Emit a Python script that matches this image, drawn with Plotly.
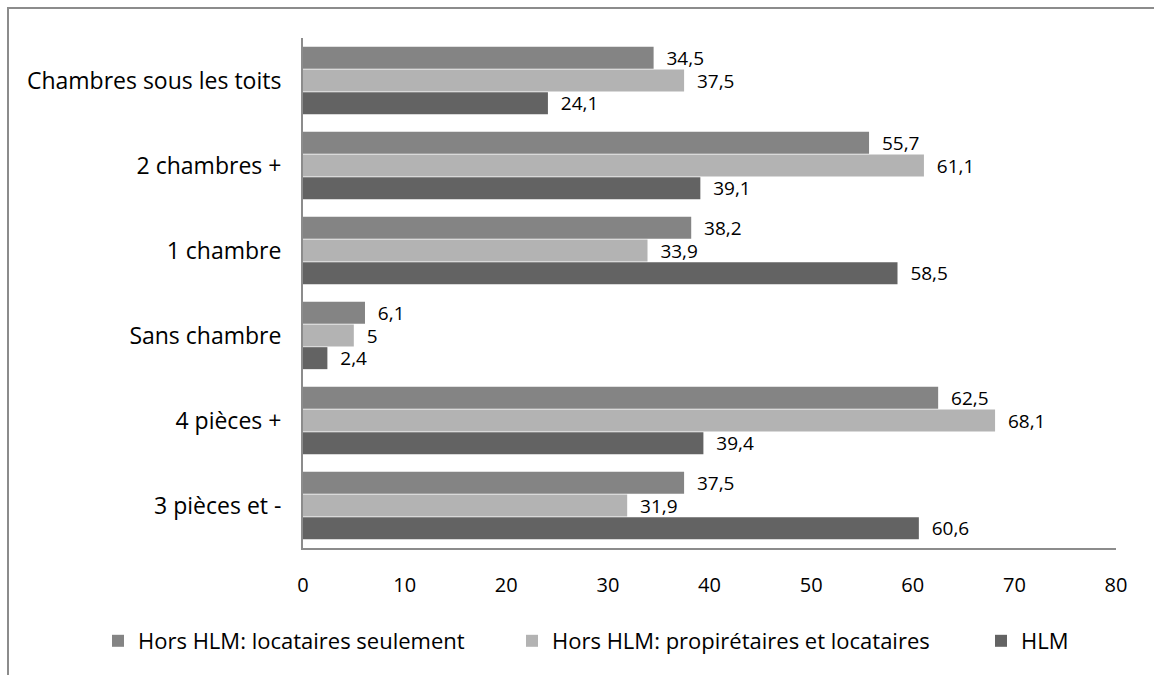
import plotly.graph_objects as go

categories = ["3 pièces et -", "4 pièces +", "Sans chambre", "1 chambre",
              "2 chambres +", "Chambres sous les toits"]
locataires = [37.5, 62.5, 6.1, 38.2, 55.7, 34.5]
proprietaires = [31.9, 68.1, 5, 33.9, 61.1, 37.5]
hlm = [60.6, 39.4, 2.4, 58.5, 39.1, 24.1]
x_ticks = [0, 10, 20, 30, 40, 50, 60, 70, 80]

FONT = "Open Sans, Liberation Sans, sans-serif"

# plot area in pixels
L, R, T, B = 303, 38, 38, 127
PW, PH = 1154 - L - R, 675 - T - B


def px_x(px):
    return (px - L) / PW


def px_y(py):
    return (675 - B - py) / PH


# traces drawn bottom-to-top within a group; each gets its own legend box
series = [
    ("HLM", hlm, "#636363", "legend3", 981),
    ("Hors HLM: propirétaires et locataires", proprietaires, "#b3b3b3", "legend2", 512),
    ("Hors HLM: locataires seulement", locataires, "#848484", "legend", 98),
]

fig = go.Figure()
legend_layout = {}
for name, vals, color, leg, lx in series:
    fig.add_trace(go.Bar(
        y=categories, x=vals, name=name, orientation="h",
        marker=dict(color=color, line=dict(width=0)),
        text=vals, texttemplate="\u00a0\u00a0%{x}", textposition="outside",
        constraintext="none",
        textfont=dict(size=19, color="#000000", family=FONT),
        cliponaxis=False, legend=leg,
    ))
    legend_layout[leg] = dict(
        x=px_x(lx), xanchor="left", y=px_y(641), yanchor="middle",
        orientation="h", font=dict(size=22, family=FONT, color="#000000"),
        bgcolor="rgba(0,0,0,0)", itemwidth=30,
    )

fig.update_layout(
    width=1154, height=675,
    paper_bgcolor="white", plot_bgcolor="white",
    barmode="group", bargap=0.2, bargroupgap=0.03,
    separators=", ",
    margin=dict(l=L, r=R, t=T, b=B),
    font=dict(family=FONT, color="#000000"),
    showlegend=True,
    xaxis=dict(range=[0, 80], tickvals=x_ticks, showgrid=False,
               zeroline=False, showline=True, linecolor="#8c8c8c", linewidth=2,
               ticks="", tickfont=dict(size=20, family=FONT), ticklabelstandoff=18),
    yaxis=dict(showgrid=False, zeroline=False, showline=True,
               linecolor="#8c8c8c", linewidth=2, ticks="",
               tickfont=dict(size=23, family=FONT), ticklabelstandoff=15),
    shapes=[dict(type="rect", xref="paper", yref="paper",
                 x0=px_x(8), x1=px_x(1200), y0=px_y(700), y1=px_y(8),
                 line=dict(color="#8c8c8c", width=2), fillcolor="rgba(0,0,0,0)",
                 layer="below")],
    **legend_layout,
)

fig.write_html("out.html")
